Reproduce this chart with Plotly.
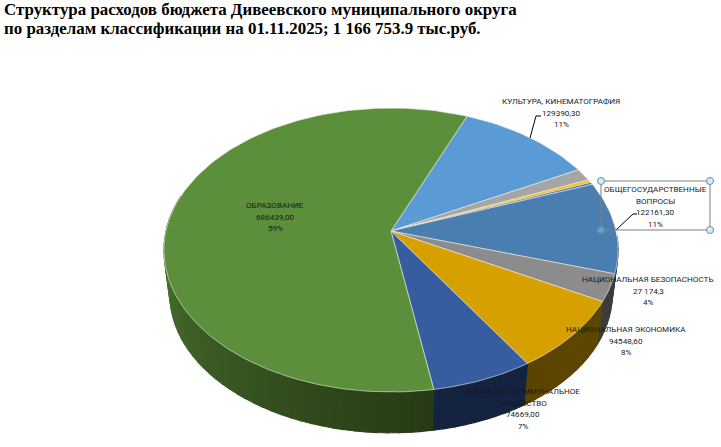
import math
import plotly.graph_objects as go

# ---- data (clockwise from the Образование / Культура boundary) ----
categories = ["КУЛЬТУРА, КИНЕМАТОГРАФИЯ", "Прочие 1", "Прочие 2", "Прочие 3",
              "ОБЩЕГОСУДАРСТВЕННЫЕ ВОПРОСЫ", "НАЦИОНАЛЬНАЯ БЕЗОПАСНОСТЬ",
              "НАЦИОНАЛЬНАЯ ЭКОНОМИКА", "ЖИЛИЩНО-КОММУНАЛЬНОЕ ХОЗЯЙСТВО", "ОБРАЗОВАНИЕ"]
values = [129390.3, 16500.0, 4000.0, 3045.7, 122161.3, 36000.0, 94548.6, 74669.0, 686439.0]
top_colors = ["#5b9bd5", "#a5a5a5", "#ffc000", "#4472c4", "#4a7eb0", "#8c8c8c", "#d6a000", "#355da0", "#5c8f3b"]
wall_colors = [("#2a4a68", "#2a4a68"), ("#4a4a4a", "#4a4a4a"), ("#705400", "#705400"), ("#1d3460", "#1d3460"),
               ("#243f5a", "#243f5a"), ("#3c3c3c", "#3c3c3c"), ("#5e4700", "#5a4400"), ("#14233f", "#14233f"),
               ("#263a16", "#507a30")]

label_lines = [
    ["КУЛЬТУРА, КИНЕМАТОГРАФИЯ", "129390,30", "11%"],
    ["ОБЩЕГОСУДАРСТВЕННЫЕ", "ВОПРОСЫ", "122161,30", "11%"],
    ["НАЦИОНАЛЬНАЯ БЕЗОПАСНОСТЬ", "27 174,3", "4%"],
    ["НАЦИОНАЛЬНАЯ ЭКОНОМИКА", "94548,60", "8%"],
    ["ЖИЛИЩНО-КОММУНАЛЬНОЕ", "ХОЗЯЙСТВО", "74669,00", "7%"],
    ["ОБРАЗОВАНИЕ", "686439,00", "59%"],
]
label_xy = [(561, 101), (655, 189), (648, 279), (626, 329), (523, 391), (275, 205)]
title_lines = ["Структура расходов бюджета Дивеевского муниципального округа",
               "по разделам классификации на 01.11.2025; 1 166 753.9 тыс.руб."]

# ---- projection of the pie disc ----
CX, CY = 391.0, 231.0
A, C, P = 225.0, 139.4, 0.134
START = 22.3
SHRINK, DEPTH = 0.974, 45.0


def top_pt(deg):
    t = math.radians(deg)
    u, v = math.sin(t), -math.cos(t)
    k = 1 - P * v
    return CX + A * u / k, CY + C * v / k


def bottom_pt(deg):
    x, y = top_pt(deg)
    return CX + (x - CX) * SHRINK, CY + (y - CY) * SHRINK + DEPTH


def mix(c1, c2, f):
    a = [int(c1[i:i + 2], 16) for i in (1, 3, 5)]
    b = [int(c2[i:i + 2], 16) for i in (1, 3, 5)]
    return "rgb(%d,%d,%d)" % tuple(round(p + (q - p) * f) for p, q in zip(a, b))


total = sum(values)
edges = [START]
for val in values:
    edges.append(edges[-1] + val / total * 360.0)

fig = go.Figure()


def poly(xs, ys, fill, line_color=None, width=0):
    fig.add_trace(go.Scatter(
        x=xs, y=ys, mode="lines", fill="toself", fillcolor=fill,
        line=dict(color=line_color or fill, width=width if line_color else 1.2),
        hoverinfo="skip", showlegend=False))


# side walls, front part of the rim only
for i in range(len(values)):
    lo, hi = max(edges[i], 92.0), min(edges[i + 1], 285.0)
    if hi <= lo:
        continue
    n = max(1, int((hi - lo) / 2.5))
    for j in range(n):
        d1 = lo + (hi - lo) * j / n
        d2 = lo + (hi - lo) * (j + 1) / n
        p = [top_pt(d1), top_pt(d2), bottom_pt(d2), bottom_pt(d1)]
        f = (j + 0.5) / n
        color = mix(wall_colors[i][0], wall_colors[i][1], f)
        poly([q[0] for q in p] + [p[0][0]], [q[1] for q in p] + [p[0][1]], color)

# top faces
for i in range(len(values)):
    n = max(2, int((edges[i + 1] - edges[i]) / 1.5))
    pts = [top_pt(edges[i] + (edges[i + 1] - edges[i]) * j / n) for j in range(n + 1)]
    xs = [CX] + [q[0] for q in pts] + [CX]
    ys = [CY] + [q[1] for q in pts] + [CY]
    poly(xs, ys, top_colors[i], "rgba(235,235,225,0.75)", 0.8)

# leader lines
for lx, ly in [((530, 536, 541), (138, 116, 116)), ((616, 633, 637), (230, 214, 214))]:
    fig.add_trace(go.Scatter(x=list(lx), y=list(ly), mode="lines", line=dict(color="#000000", width=1),
                             hoverinfo="skip", showlegend=False))

# selected label frame and handles
bx = [601, 710, 710, 601, 601]
by = [181, 181, 230, 230, 181]
fig.add_trace(go.Scatter(x=bx, y=by, mode="lines", line=dict(color="#7f7f7f", width=1),
                         hoverinfo="skip", showlegend=False))
fig.add_trace(go.Scatter(x=bx[:4], y=by[:4], mode="markers",
                         marker=dict(size=7, color=["#dbe9f4", "#dbe9f4", "#dbe9f4", "#6d9db8"],
                                     line=dict(color="#5b8fb0", width=1)),
                         hoverinfo="skip", showlegend=False))

for (x, y), lines in zip(label_xy, label_lines):
    for k, line in enumerate(lines):
        fig.add_annotation(x=x, y=y + 11.5 * k, text=line, showarrow=False, xanchor="center", yanchor="middle",
                           font=dict(family="Roboto", size=8.1, color="#1a1a1a"))

for k, line in enumerate(title_lines):
    fig.add_annotation(x=2, y=9.5 + 19 * k, text="<b>%s</b>" % line, showarrow=False, xanchor="left",
                       yanchor="middle", font=dict(family="Liberation Serif", size=16.9, color="#000000"))

fig.update_layout(
    width=721, height=447, margin=dict(l=0, r=0, t=0, b=0),
    paper_bgcolor="white", plot_bgcolor="white", showlegend=False,
    xaxis=dict(range=[0, 721], visible=False, fixedrange=True),
    yaxis=dict(range=[447, 0], visible=False, fixedrange=True),
)
fig.write_html("out.html", config=dict(displayModeBar=False),
               post_script="document.body.style.margin='0';document.documentElement.style.overflow='hidden';")
